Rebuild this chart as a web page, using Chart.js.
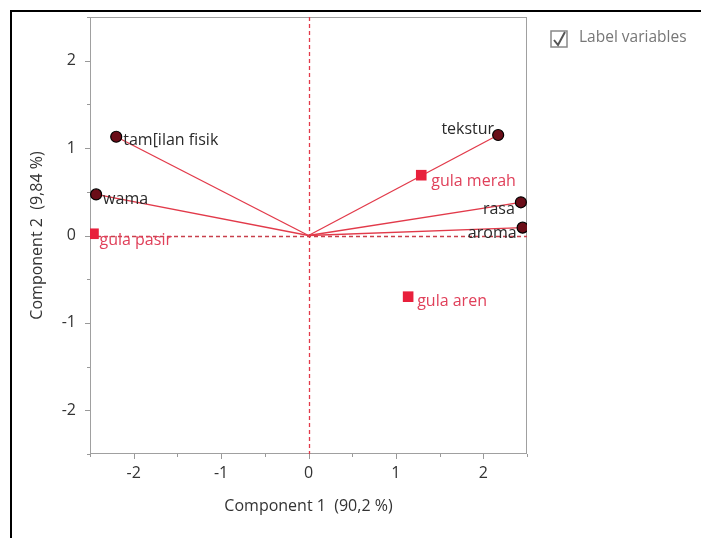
<!DOCTYPE html>
<html>
<head>
<meta charset="utf-8">
<script src="https://cdn.jsdelivr.net/npm/chart.js@4/dist/chart.umd.min.js"></script>
<style>
html,body{margin:0;padding:0;background:#fff;}
#wrap{width:701px;height:538px;position:relative;}
</style>
</head>
<body>
<div id="wrap"><canvas id="c" width="701" height="538"></canvas></div>
<script>
// Loadings (variables)
const varNames = ["tam[ilan fisik", "wama", "tekstur", "rasa", "aroma"];
const varX = [-2.20, -2.43, 2.17, 2.43, 2.45];
const varY = [1.13, 0.47, 1.15, 0.38, 0.09];
// Scores (observations)
const obsNames = ["gula merah", "gula pasir", "gula aren"];
const obsX = [1.29, -2.46, 1.14];
const obsY = [0.69, 0.02, -0.70];
const tickValues = [-2, -1, 0, 1, 2];
const xTitle = "Component 1  (90,2 %)";
const yTitle = "Component 2  (9,84 %)";
const checkboxText = "Label variables";

const FONT = "'Open Sans', 'Noto Sans', sans-serif";
const RED = "#e23a4a";
const SQ = "#e8203c";

const lineSets = varX.map((x, i) => ({
  type: 'scatter', showLine: true,
  data: [{x: 0, y: 0}, {x: x, y: varY[i]}],
  borderColor: RED, borderWidth: 1.3, pointRadius: 0, order: 3
}));

const varLabelPos = [
  [7, 4, 'left'], [7, 5, 'left'], [-4, -6, 'right'], [-6, 7, 'right'], [-6, 6, 'right']
];
const obsLabelPos = [[10, 6, 'left'], [6, 7, 'left'], [9, 5, 'left']];

function fmt(v) {
  const r = Math.round(v);
  return Math.abs(v - r) < 1e-6 ? String(r) : '';
}

const deco = {
  id: 'deco',
  beforeDraw(chart) {
    const ctx = chart.ctx;
    ctx.save();
    ctx.fillStyle = '#fff';
    ctx.fillRect(0, 0, chart.width, chart.height);
    ctx.strokeStyle = '#000';
    ctx.lineWidth = 2;
    ctx.beginPath();
    ctx.moveTo(11, 538); ctx.lineTo(11, 11); ctx.lineTo(701, 11);
    ctx.stroke();
    ctx.strokeStyle = '#888';
    ctx.lineWidth = 1.5;
    ctx.strokeRect(551, 31, 16, 16);
    ctx.strokeStyle = '#555';
    ctx.lineWidth = 2;
    ctx.beginPath();
    ctx.moveTo(554, 40); ctx.lineTo(558, 45); ctx.lineTo(565, 32);
    ctx.stroke();
    ctx.fillStyle = '#777';
    ctx.font = "15.5px " + FONT;
    ctx.textBaseline = 'middle';
    ctx.textAlign = 'left';
    ctx.fillText(checkboxText, 579, 38);
    ctx.restore();
  },
  beforeDatasetsDraw(chart) {
    const ctx = chart.ctx;
    const xs = chart.scales.x, ys = chart.scales.y;
    const a = chart.chartArea;
    ctx.save();
    ctx.strokeStyle = '#a0a0a0';
    ctx.lineWidth = 1;
    ctx.strokeRect(a.left + 0.5, a.top + 0.5, a.right - a.left - 1, a.bottom - a.top - 1);
    ctx.strokeStyle = '#999';
    for (let v = -2.5; v <= 2.5001; v += 0.5) {
      const major = Math.abs(v - Math.round(v)) < 1e-6;
      const len = major ? 5 : 3;
      const px = Math.round(xs.getPixelForValue(v)) + 0.5;
      ctx.beginPath(); ctx.moveTo(px, a.bottom); ctx.lineTo(px, a.bottom + len); ctx.stroke();
      const py = Math.round(ys.getPixelForValue(v)) + 0.5;
      ctx.beginPath(); ctx.moveTo(a.left, py); ctx.lineTo(a.left - len, py); ctx.stroke();
    }
    ctx.setLineDash([4, 3]);
    ctx.lineWidth = 1.3;
    ctx.strokeStyle = RED;
    const x0 = Math.round(xs.getPixelForValue(0)) + 0.5;
    ctx.beginPath(); ctx.moveTo(x0, a.top); ctx.lineTo(x0, a.bottom); ctx.stroke();
    const y0 = Math.round(ys.getPixelForValue(0)) + 0.5;
    ctx.strokeStyle = '#c8404c';
    ctx.beginPath(); ctx.moveTo(a.left, y0); ctx.lineTo(a.right, y0); ctx.stroke();
    ctx.restore();
  },
  afterDatasetsDraw(chart) {
    const ctx = chart.ctx;
    const xs = chart.scales.x, ys = chart.scales.y;
    ctx.save();
    ctx.font = "16px " + FONT;
    ctx.textBaseline = 'middle';
    varNames.forEach((n, i) => {
      const p = varLabelPos[i];
      ctx.fillStyle = '#2a2a2a';
      ctx.textAlign = p[2];
      ctx.fillText(n, xs.getPixelForValue(varX[i]) + p[0], ys.getPixelForValue(varY[i]) + p[1]);
    });
    obsNames.forEach((n, i) => {
      const p = obsLabelPos[i];
      ctx.fillStyle = '#e0405a';
      ctx.textAlign = p[2];
      ctx.fillText(n, xs.getPixelForValue(obsX[i]) + p[0], ys.getPixelForValue(obsY[i]) + p[1]);
    });
    ctx.restore();
  }
};

const tickFont = {size: 16, family: FONT};

new Chart(document.getElementById('c'), {
  type: 'scatter',
  data: {
    datasets: [
      ...lineSets,
      {
        data: varX.map((x, i) => ({x: x, y: varY[i]})),
        pointStyle: 'circle', pointRadius: 5.5,
        backgroundColor: '#6a0d18', borderColor: '#000', borderWidth: 1.2, order: 1
      },
      {
        data: obsX.map((x, i) => ({x: x, y: obsY[i]})),
        pointStyle: 'rect', pointRadius: 7.5,
        backgroundColor: SQ, borderColor: SQ, borderWidth: 0, order: 2
      }
    ]
  },
  plugins: [deco],
  options: {
    responsive: false,
    animation: false,
    events: [],
    layout: {padding: {left: 28, top: 17, right: 174, bottom: 22}},
    plugins: {legend: {display: false}, tooltip: {enabled: false}},
    scales: {
      x: {
        type: 'linear', min: -2.5, max: 2.5,
        afterBuildTicks(s) { s.ticks = tickValues.map(v => ({value: v})); },
        afterFit(s) { s.height = 62; s.paddingLeft = 0; s.paddingRight = 0; },
        grid: {display: false, drawTicks: false},
        border: {display: false},
        ticks: {
          padding: 10, color: '#333', font: tickFont,
          autoSkip: false, maxRotation: 0, callback: fmt
        },
        title: {display: true, text: xTitle, color: '#333', font: {size: 16, family: FONT}, padding: {top: 8, bottom: 0}}
      },
      y: {
        type: 'linear', min: -2.5, max: 2.5,
        afterBuildTicks(s) { s.ticks = tickValues.map(v => ({value: v})); },
        afterFit(s) { s.width = 62; s.paddingTop = 0; s.paddingBottom = 0; },
        grid: {display: false, drawTicks: false},
        border: {display: false},
        ticks: {
          padding: 14, color: '#333', font: tickFont,
          autoSkip: false, callback: fmt
        },
        title: {display: true, text: yTitle, color: '#333', font: {size: 16, family: FONT}, padding: {top: 0, bottom: 0}}
      }
    }
  }
});
</script>
</body>
</html>
